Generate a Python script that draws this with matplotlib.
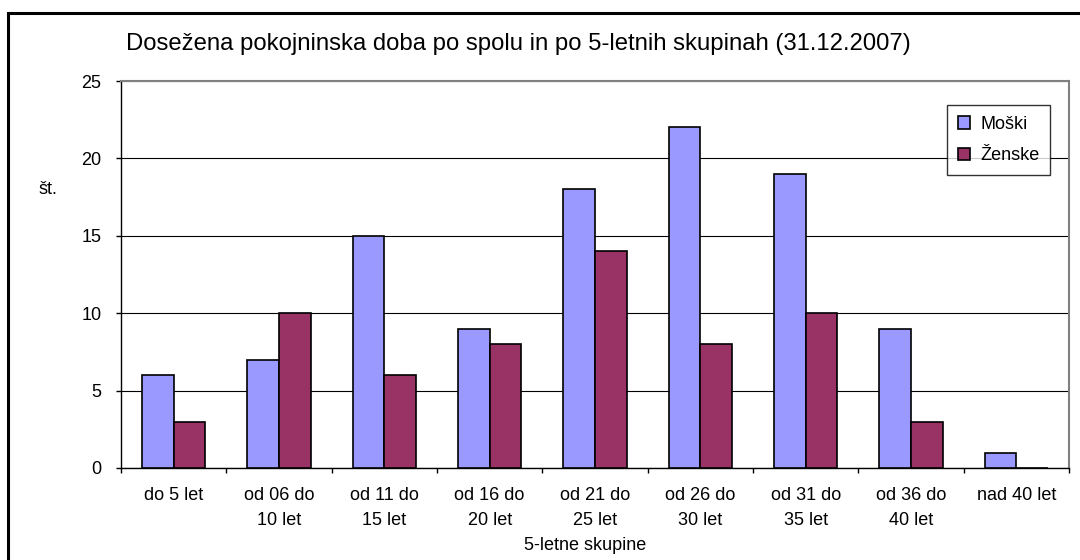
import matplotlib
matplotlib.use("Agg")
import matplotlib.pyplot as plt
import numpy as np
from matplotlib.patches import Rectangle

plt.rcParams['font.family'] = ['Liberation Sans', 'DejaVu Sans']

categories = ["do 5 let", "od 06 do\n10 let", "od 11 do\n15 let", "od 16 do\n20 let",
              "od 21 do\n25 let", "od 26 do\n30 let", "od 31 do\n35 let", "od 36 do\n40 let",
              "nad 40 let"]
moski = [6, 7, 15, 9, 18, 22, 19, 9, 1]
zenske = [3, 10, 6, 8, 14, 8, 10, 3, 0]
series_names = ["Moški", "Ženske"]
title = "Dosežena pokojninska doba po spolu in po 5-letnih skupinah (31.12.2007)"
y_ticks = [0, 5, 10, 15, 20, 25]

c_m = "#9999FF"
c_z = "#993366"
fs = 13

fig = plt.figure(figsize=(10.8, 5.6), dpi=100)
# outer frame (top and left visible)
fig.add_artist(Rectangle((8/1080, -0.1), 1.2, (1 - 13/560) + 0.1, transform=fig.transFigure,
                         fill=False, edgecolor="black", linewidth=2.2))

ax = fig.add_axes([121/1080, 1 - 468/560, (1069-121)/1080, (468-81)/560])
x = np.arange(len(categories))
w = 0.3
ax.bar(x - w/2, moski, width=w, color=c_m, edgecolor="black", linewidth=1.2, label=series_names[0], zorder=3)
ax.bar(x + w/2, zenske, width=w, color=c_z, edgecolor="black", linewidth=1.2, label=series_names[1], zorder=3)

ax.set_xlim(-0.5, len(categories) - 0.5)
ax.set_ylim(0, 25)
ax.set_yticks(y_ticks)
ax.yaxis.grid(True, color="black", linewidth=0.8, zorder=0)
ax.set_axisbelow(True)

ax.set_xticks(np.arange(len(categories) + 1) - 0.5)
ax.set_xticklabels([])
ax.set_xticks(x, minor=True)
ax.set_xticklabels(categories, minor=True, fontsize=fs, linespacing=1.6)
ax.tick_params(axis="x", which="minor", length=0, pad=14)
ax.tick_params(axis="x", which="major", length=3.6, width=1, direction="out")
ax.tick_params(axis="y", length=3.6, width=1, direction="out", labelsize=fs, pad=10.5)

for s in ["top", "right"]:
    ax.spines[s].set_color("#808080")
    ax.spines[s].set_linewidth(1.5)
for s in ["left", "bottom"]:
    ax.spines[s].set_color("black")
    ax.spines[s].set_linewidth(1.0)

fig.text(518/1080, 1 - 44/560, title, fontsize=17.2, ha="center", va="center")
fig.text(48/1080, 1 - 189/560, "št.", fontsize=fs, ha="center", va="center")
fig.text(585/1080, 1 - 546/560, "5-letne skupine", fontsize=fs, ha="center", va="center")

leg = ax.legend(loc="upper left", bbox_to_anchor=((947-121)/(1069-121), (468-105)/(468-81)),
                frameon=True, fancybox=False, shadow=False, fontsize=fs,
                handlelength=0.65, handleheight=0.65, handletextpad=0.6,
                labelspacing=0.8, borderpad=0.6, borderaxespad=0)
leg.get_frame().set_edgecolor("black")
leg.get_frame().set_linewidth(1.0)

fig.savefig("out.png", dpi=100, facecolor="white")
